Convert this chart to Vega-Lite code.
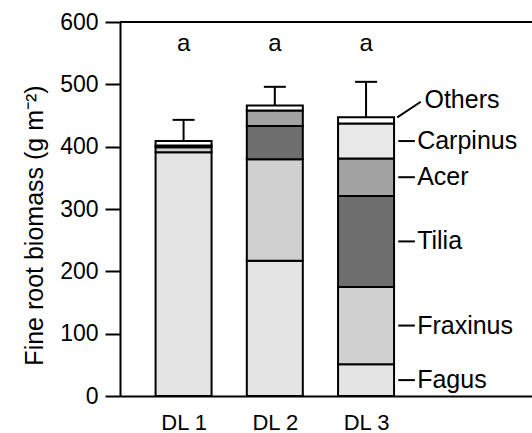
{
  "$schema": "https://vega.github.io/schema/vega-lite/v6.json",
  "width": 412,
  "height": 374,
  "autosize": {"type": "none"},
  "padding": {"left": 120, "top": 22, "right": 0, "bottom": 37},
  "background": "white",
  "config": {
    "view": {"stroke": null},
    "font": "Liberation Sans",
    "axis": {
      "grid": false,
      "domainColor": "black",
      "domainWidth": 2,
      "tickColor": "black",
      "tickWidth": 2,
      "labelColor": "black",
      "labelFontSize": 23,
      "titleColor": "black",
      "titleFontSize": 25,
      "titleFontWeight": "normal",
      "labelFont": "Liberation Sans",
      "titleFont": "Liberation Sans"
    }
  },
  "datasets": {
    "roots": [
      {"dl": 1, "species": "Fagus", "biomass": 391},
      {"dl": 1, "species": "Fraxinus", "biomass": 8},
      {"dl": 1, "species": "Tilia", "biomass": 3},
      {"dl": 1, "species": "Others", "biomass": 7},
      {"dl": 2, "species": "Fagus", "biomass": 217},
      {"dl": 2, "species": "Fraxinus", "biomass": 163},
      {"dl": 2, "species": "Tilia", "biomass": 53},
      {"dl": 2, "species": "Acer", "biomass": 25},
      {"dl": 2, "species": "Others", "biomass": 8},
      {"dl": 3, "species": "Fagus", "biomass": 51},
      {"dl": 3, "species": "Fraxinus", "biomass": 124},
      {"dl": 3, "species": "Tilia", "biomass": 146},
      {"dl": 3, "species": "Acer", "biomass": 60},
      {"dl": 3, "species": "Carpinus", "biomass": 56},
      {"dl": 3, "species": "Others", "biomass": 10}
    ],
    "errors": [
      {"dl": 1, "total": 409, "upper": 443},
      {"dl": 2, "total": 466, "upper": 496},
      {"dl": 3, "total": 447, "upper": 504}
    ],
    "letters": [
      {"dl": 1, "letter": "a"},
      {"dl": 2, "letter": "a"},
      {"dl": 3, "letter": "a"}
    ]
  },
  "layer": [
    {
      "data": {"values": [{}]},
      "mark": {"type": "rule", "color": "black", "strokeWidth": 2},
      "encoding": {"y": {"datum": 600}}
    },
    {
      "data": {"name": "errors"},
      "mark": {"type": "rule", "color": "black", "strokeWidth": 2},
      "encoding": {
        "x": {"field": "dl", "type": "quantitative"},
        "y": {"field": "total", "type": "quantitative"},
        "y2": {"field": "upper"}
      }
    },
    {
      "data": {"name": "errors"},
      "mark": {"type": "tick", "orient": "horizontal", "size": 22, "thickness": 2, "color": "black", "opacity": 1},
      "encoding": {
        "x": {"field": "dl", "type": "quantitative"},
        "y": {"field": "upper", "type": "quantitative"}
      }
    },
    {
      "data": {"name": "roots"},
      "transform": [
        {"calculate": "indexof(['Fagus','Fraxinus','Tilia','Acer','Carpinus','Others'], datum.species)", "as": "rank"}
      ],
      "mark": {"type": "bar", "orient": "vertical", "size": 56, "stroke": "black", "strokeWidth": 2},
      "encoding": {
        "x": {
          "field": "dl",
          "type": "quantitative",
          "scale": {"domain": [0.358, 4.764], "nice": false, "zero": false},
          "axis": {"title": null, "values": [1, 2, 3], "ticks": false, "labelExpr": "'DL ' + datum.value", "labelFontSize": 22, "labelPadding": 16, "labelDx": 7}
        },
        "y": {
          "field": "biomass",
          "type": "quantitative",
          "stack": "zero",
          "scale": {"domain": [0, 600], "nice": false},
          "axis": {"title": "Fine root biomass (g m⁻²)", "values": [0, 100, 200, 300, 400, 500, 600], "tickSize": 15, "labelPadding": 7, "titlePadding": 12, "titleY": 203}
        },
        "fill": {
          "field": "species",
          "type": "nominal",
          "scale": {
            "domain": ["Fagus", "Fraxinus", "Tilia", "Acer", "Carpinus", "Others"],
            "range": ["#e4e4e4", "#d0d0d0", "#6e6e6e", "#a3a3a3", "#e8e8e8", "#ffffff"]
          },
          "legend": null
        },
        "order": {"field": "rank", "type": "quantitative"}
      }
    },
    {
      "data": {"name": "letters"},
      "mark": {"type": "text", "fontSize": 24, "color": "black", "baseline": "middle", "align": "center"},
      "encoding": {
        "x": {"field": "dl", "type": "quantitative"},
        "y": {"datum": 565},
        "text": {"field": "letter"}
      }
    },
    {
      "data": {"name": "roots"},
      "transform": [
        {"filter": "datum.dl == 3"},
        {"calculate": "indexof(['Fagus','Fraxinus','Tilia','Acer','Carpinus','Others'], datum.species)", "as": "rank"},
        {"stack": "biomass", "groupby": ["dl"], "sort": [{"field": "rank", "order": "ascending"}], "as": ["lo", "hi"]},
        {"calculate": "(datum.lo + datum.hi) / 2", "as": "mid"},
        {"filter": "datum.species != 'Others'"}
      ],
      "layer": [
        {
          "mark": {"type": "rule", "color": "black", "strokeWidth": 2},
          "encoding": {
            "x": {"datum": 3.353},
            "x2": {"datum": 3.535},
            "y": {"field": "mid", "type": "quantitative"}
          }
        },
        {
          "mark": {"type": "text", "fontSize": 25, "color": "black", "align": "left", "baseline": "middle"},
          "encoding": {
            "x": {"datum": 3.56},
            "y": {"field": "mid", "type": "quantitative"},
            "text": {"field": "species"}
          }
        }
      ]
    },
    {
      "data": {"values": [{"label": "Others"}]},
      "layer": [
        {
          "mark": {"type": "rule", "color": "black", "strokeWidth": 2},
          "encoding": {
            "x": {"datum": 3.342},
            "y": {"datum": 447},
            "x2": {"datum": 3.6},
            "y2": {"datum": 472}
          }
        },
        {
          "mark": {"type": "text", "fontSize": 25, "color": "black", "align": "left", "baseline": "middle"},
          "encoding": {
            "x": {"datum": 3.64},
            "y": {"datum": 475},
            "text": {"field": "label"}
          }
        }
      ]
    }
  ]
}
